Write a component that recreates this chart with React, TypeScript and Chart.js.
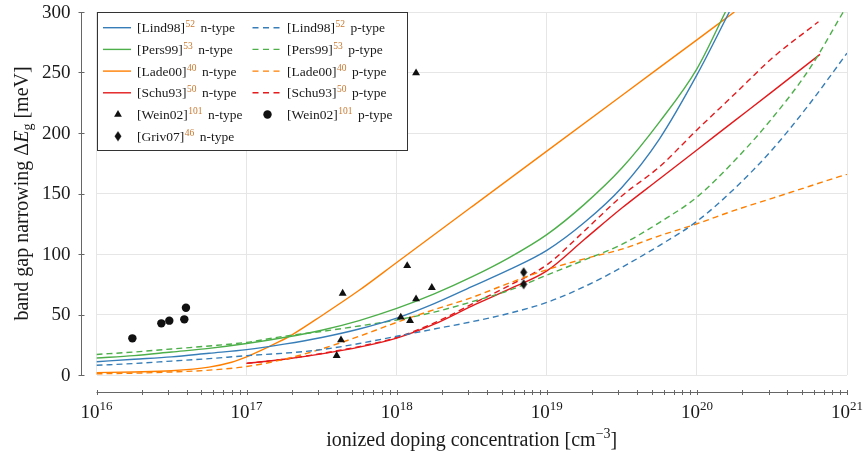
import { useEffect, useRef } from "react";
import { Chart, registerables } from "chart.js";

Chart.register(...registerables);

const SERIF = '"Liberation Serif", "Times New Roman", Times, serif';
const BLUE = "#377eb8";
const GREEN = "#4daf4a";
const ORANGE = "#ff7f00";
const RED = "#e41a1c";
const MARK = "#111111";
const CITE = "#c8782f";

// x values: log10 of ionized doping concentration [cm^-3]; y values: band gap narrowing [meV]
const lind98nLogN = [16, 16.25, 16.5, 16.75, 17, 17.25, 17.5, 17.75, 18, 18.25, 18.5, 18.75, 19, 19.25, 19.5, 19.75, 20, 20.216];
const lind98nVal = [11, 13, 15, 18, 21, 25.5, 31, 38, 47, 59, 73, 87, 103, 126, 155, 195, 248, 300];

const lind98pLogN = [16, 16.25, 16.5, 16.75, 17, 17.25, 17.5, 17.75, 18, 18.25, 18.5, 18.75, 19, 19.25, 19.5, 19.75, 20, 20.25, 20.5, 20.75, 21];
const lind98pVal = [8, 9.5, 11.5, 13.5, 16, 18, 21, 26, 32, 38, 44, 51, 60, 73, 89, 107, 127, 154, 186, 224, 266];

const pers99nLogN = [16, 16.25, 16.5, 16.75, 17, 17.25, 17.5, 17.75, 18, 18.25, 18.5, 18.75, 19, 19.25, 19.5, 19.75, 20, 20.19];
const pers99nVal = [14, 16, 19, 22, 26, 31, 37, 45, 55, 67, 81, 97, 116, 141, 171, 209, 253, 300];

const pers99pLogN = [16, 16.25, 16.5, 16.75, 17, 17.25, 17.5, 17.75, 18, 18.25, 18.5, 18.75, 19, 19.25, 19.5, 19.75, 20, 20.25, 20.5, 20.75, 20.975];
const pers99pVal = [17, 19, 21.5, 24, 27, 32, 36, 40.5, 45.5, 52, 60.5, 70, 82.5, 95, 108, 126, 147, 177, 212, 253, 300];

const lade00nLogN = [16, 16.25, 16.5, 16.75, 16.9, 17, 17.1, 17.2, 17.3, 17.5, 17.75, 18, 18.5, 19, 19.5, 20, 20.25];
const lade00nVal = [2, 2.5, 3.5, 6.5, 10.5, 15, 20.5, 26.5, 33, 49, 70, 93, 139, 185, 231, 277, 300];

const lade00pLogN = [16, 16.25, 16.5, 16.75, 17, 17.25, 17.5, 17.75, 18, 18.25, 18.5, 18.75, 19, 19.25, 19.5, 19.75, 20, 20.25, 20.5, 20.75, 21];
const lade00pVal = [1, 1.5, 2.5, 4, 7, 13, 21.5, 32, 43.5, 54, 64, 76, 87, 96, 104, 115, 125, 136, 146, 156, 166];

const schu93nLogN = [17, 17.25, 17.5, 17.75, 18, 18.25, 18.5, 18.75, 19, 19.25, 19.5, 19.75, 20, 20.25, 20.5, 20.82];
const schu93nVal = [9.6, 13, 17.5, 23, 30.5, 42, 57, 71, 86, 112, 138, 162, 186, 210, 234, 265];

const schu93pLogN = [17, 17.25, 17.5, 17.75, 18, 18.25, 18.5, 18.75, 19, 19.25, 19.5, 19.75, 20, 20.25, 20.5, 20.81];
const schu93pVal = [9.6, 13, 17.8, 23.5, 31, 43, 58.5, 74, 91, 119, 148, 172, 202.5, 232, 261.7, 292];

const wein02nLogN = [17.6, 17.629, 17.64, 18.027, 18.07, 18.089, 18.129, 18.129, 18.234];
const wein02nVal = [16, 28.9, 67.5, 47.7, 90.3, 44.9, 62.8, 249.6, 72.2];

const wein02pLogN = [16.239, 16.432, 16.485, 16.585, 16.596];
const wein02pVal = [30.3, 42.7, 44.9, 46, 55.6];

const griv07nLogN = [18.846, 18.846];
const griv07nVal = [84.9, 75];

// legend texts
const seriesNames = ["[Lind98]", "[Lind98]", "[Pers99]", "[Pers99]", "[Lade00]", "[Lade00]", "[Schu93]", "[Schu93]", "[Wein02]", "[Wein02]", "[Griv07]"];
const seriesCites = ["52", "52", "53", "53", "40", "40", "50", "50", "101", "101", "46"];
const seriesTypes = ["n-type", "p-type", "n-type", "p-type", "n-type", "p-type", "n-type", "p-type", "n-type", "p-type", "n-type"];

const xTickExponents = [16, 17, 18, 19, 20, 21];
const yTickValues = [0, 50, 100, 150, 200, 250, 300];

const pts = (logs: number[], vals: number[]) => logs.map((l, i) => ({ x: Math.pow(10, l), y: vals[i] }));

function makeDiamond(): HTMLCanvasElement {
  const c = document.createElement("canvas");
  c.width = 8;
  c.height = 11;
  const g = c.getContext("2d")!;
  g.fillStyle = MARK;
  g.beginPath();
  g.moveTo(4, 0.5);
  g.lineTo(7.5, 5.5);
  g.lineTo(4, 10.5);
  g.lineTo(0.5, 5.5);
  g.closePath();
  g.fill();
  return c;
}

function drawMarker(ctx: CanvasRenderingContext2D, kind: string, x: number, y: number, diamond: HTMLCanvasElement) {
  ctx.save();
  ctx.fillStyle = MARK;
  if (kind === "triangle") {
    const r = 4.5;
    ctx.beginPath();
    ctx.moveTo(x, y - r);
    ctx.lineTo(x + r * 0.866, y + r * 0.5);
    ctx.lineTo(x - r * 0.866, y + r * 0.5);
    ctx.closePath();
    ctx.fill();
  } else if (kind === "circle") {
    ctx.beginPath();
    ctx.arc(x, y, 4.2, 0, Math.PI * 2);
    ctx.fill();
  } else {
    ctx.drawImage(diamond, x - diamond.width / 2, y - diamond.height / 2);
  }
  ctx.restore();
}

export default function App() {
  const ref = useRef<HTMLCanvasElement>(null);

  useEffect(() => {
    const canvas = ref.current!;
    const diamond = makeDiamond();

    const line = (logs: number[], vals: number[], color: string, dashed: boolean, idx: number) => ({
      label: seriesNames[idx] + " " + seriesTypes[idx],
      data: pts(logs, vals),
      borderColor: color,
      backgroundColor: color,
      borderWidth: 1.4,
      borderDash: dashed ? [6, 4] : [],
      pointRadius: 0,
      cubicInterpolationMode: "monotone" as const,
      fill: false,
      order: 2,
      legendKind: dashed ? "dash" : "solid",
    });
    const scatter = (logs: number[], vals: number[], style: any, radius: number, idx: number, kind: string) => ({
      label: seriesNames[idx] + " " + seriesTypes[idx],
      data: pts(logs, vals),
      showLine: false,
      pointStyle: style,
      pointRadius: radius,
      pointBackgroundColor: MARK,
      pointBorderColor: MARK,
      pointBorderWidth: 0,
      borderColor: MARK,
      backgroundColor: MARK,
      order: 1,
      legendKind: kind,
    });

    const datasets: any[] = [
      line(lind98nLogN, lind98nVal, BLUE, false, 0),
      line(lind98pLogN, lind98pVal, BLUE, true, 1),
      line(pers99nLogN, pers99nVal, GREEN, false, 2),
      line(pers99pLogN, pers99pVal, GREEN, true, 3),
      line(lade00nLogN, lade00nVal, ORANGE, false, 4),
      line(lade00pLogN, lade00pVal, ORANGE, true, 5),
      line(schu93nLogN, schu93nVal, RED, false, 6),
      line(schu93pLogN, schu93pVal, RED, true, 7),
      scatter(wein02nLogN, wein02nVal, "triangle", 4.6, 8, "triangle"),
      scatter(wein02pLogN, wein02pVal, "circle", 4.2, 9, "circle"),
      scatter(griv07nLogN, griv07nVal, diamond, 5, 10, "diamond"),
    ];

    const axesPlugin = {
      id: "customAxes",
      afterDraw(chart: any) {
        const ctx: CanvasRenderingContext2D = chart.ctx;
        const area = chart.chartArea;
        const xs = chart.scales.x;
        const ys = chart.scales.y;
        ctx.save();

        // x axis (offset below plot)
        const axY = Math.round(area.bottom + 17) + 0.5;
        ctx.strokeStyle = "#666";
        ctx.lineWidth = 1;
        ctx.beginPath();
        ctx.moveTo(area.left, axY);
        ctx.lineTo(area.right, axY);
        for (let e = 16; e <= 21; e++) {
          for (let m = 1; m <= 9; m++) {
            if (e === 21 && m > 1) break;
            const px = Math.round(xs.getPixelForValue(m * Math.pow(10, e))) + 0.5;
            ctx.moveTo(px, axY - 2.5);
            ctx.lineTo(px, axY + 2.5);
          }
        }
        ctx.stroke();

        ctx.fillStyle = "#1a1a1a";
        ctx.textBaseline = "alphabetic";
        ctx.textAlign = "left";
        for (const e of xTickExponents) {
          const px = xs.getPixelForValue(Math.pow(10, e));
          ctx.font = `19px ${SERIF}`;
          const w1 = ctx.measureText("10").width;
          ctx.font = `13px ${SERIF}`;
          const w2 = ctx.measureText(String(e)).width;
          const x0 = px - (w1 + w2) / 2;
          ctx.font = `19px ${SERIF}`;
          ctx.fillText("10", x0, 418);
          ctx.font = `13px ${SERIF}`;
          ctx.fillText(String(e), x0 + w1, 410);
        }

        // y axis (offset left of plot)
        const axX = Math.round(area.left - 16) + 0.5;
        ctx.strokeStyle = "#666";
        ctx.beginPath();
        ctx.moveTo(axX, area.top);
        ctx.lineTo(axX, area.bottom);
        for (const v of yTickValues) {
          const py = Math.round(ys.getPixelForValue(v)) + 0.5;
          ctx.moveTo(axX - 3, py);
          ctx.lineTo(axX + 3, py);
        }
        ctx.stroke();
        ctx.font = `19px ${SERIF}`;
        ctx.textAlign = "right";
        ctx.textBaseline = "middle";
        for (const v of yTickValues) {
          ctx.fillText(String(v), axX - 11, ys.getPixelForValue(v) + 1);
        }

        // x title
        ctx.textAlign = "left";
        ctx.textBaseline = "alphabetic";
        const xParts: [string, string, number][] = [
          ["ionized doping concentration [cm", `20px ${SERIF}`, 0],
          ["\u22123", `14px ${SERIF}`, -8],
          ["]", `20px ${SERIF}`, 0],
        ];
        let total = 0;
        for (const p of xParts) { ctx.font = p[1]; total += ctx.measureText(p[0]).width; }
        let cx = (area.left + area.right) / 2 - total / 2;
        for (const p of xParts) {
          ctx.font = p[1];
          ctx.fillText(p[0], cx, 446 + p[2]);
          cx += ctx.measureText(p[0]).width;
        }

        // y title (rotated)
        const yParts: [string, string, number][] = [
          ["band gap narrowing \u0394", `20px ${SERIF}`, 0],
          ["E", `italic 20px ${SERIF}`, 0],
          ["g", `14px ${SERIF}`, 4],
          [" [meV]", `20px ${SERIF}`, 0],
        ];
        total = 0;
        for (const p of yParts) { ctx.font = p[1]; total += ctx.measureText(p[0]).width; }
        ctx.save();
        ctx.translate(28, (area.top + area.bottom) / 2);
        ctx.rotate(-Math.PI / 2);
        let ty = -total / 2;
        for (const p of yParts) {
          ctx.font = p[1];
          ctx.fillText(p[0], ty, p[2]);
          ty += ctx.measureText(p[0]).width;
        }
        ctx.restore();

        // legend
        const lx0 = 97.5, ly0 = 12.5, lx1 = 407.5, ly1 = 150.5;
        ctx.fillStyle = "#fff";
        ctx.fillRect(lx0, ly0, lx1 - lx0, ly1 - ly0);
        ctx.strokeStyle = "#333";
        ctx.lineWidth = 1;
        ctx.strokeRect(lx0, ly0, lx1 - lx0, ly1 - ly0);
        const colSample = [103, 252.5];
        const colText = [137, 287];
        const ds = chart.data.datasets;
        for (let i = 0; i < ds.length; i++) {
          const col = i % 2;
          const row = Math.floor(i / 2);
          const ry = 27.7 + row * 21.7;
          const d = ds[i];
          const kind = d.legendKind;
          if (kind === "solid" || kind === "dash") {
            ctx.save();
            ctx.strokeStyle = d.borderColor;
            ctx.lineWidth = 1.4;
            ctx.setLineDash(kind === "dash" ? [6, 4.5] : []);
            ctx.beginPath();
            ctx.moveTo(colSample[col], ry);
            ctx.lineTo(colSample[col] + 28, ry);
            ctx.stroke();
            ctx.restore();
          } else {
            drawMarker(ctx, kind, colSample[col] + 15, ry, diamond);
          }
          let tx = colText[col];
          ctx.textAlign = "left";
          ctx.textBaseline = "alphabetic";
          ctx.fillStyle = "#1a1a1a";
          ctx.font = `13.5px ${SERIF}`;
          ctx.fillText(seriesNames[i], tx, ry + 4.5);
          tx += ctx.measureText(seriesNames[i]).width + 0.5;
          ctx.fillStyle = CITE;
          ctx.font = `9.5px ${SERIF}`;
          ctx.fillText(seriesCites[i], tx, ry - 0.5);
          tx += ctx.measureText(seriesCites[i]).width + 5.5;
          ctx.fillStyle = "#1a1a1a";
          ctx.font = `13.5px ${SERIF}`;
          ctx.fillText(seriesTypes[i], tx, ry + 4.5);
        }
        ctx.restore();
      },
    };

    const chart = new Chart(canvas, {
      type: "line",
      data: { datasets },
      options: {
        responsive: false,
        animation: false,
        devicePixelRatio: 1,
        layout: { padding: { top: 12, right: 16, bottom: 0, left: 0 }, autoPadding: false },
        plugins: { legend: { display: false }, tooltip: { enabled: false } },
        scales: {
          x: {
            type: "logarithmic",
            min: 1e16,
            max: 1e21,
            ticks: { display: false },
            grid: { color: "#e6e6e6", lineWidth: 1, drawTicks: false },
            border: { display: false },
            afterBuildTicks: (s: any) => {
              s.ticks = xTickExponents.map((e) => ({ value: Math.pow(10, e) }));
            },
            afterFit: (s: any) => { s.height = 79; },
          },
          y: {
            type: "linear",
            min: 0,
            max: 300,
            ticks: { display: false, stepSize: 50 },
            grid: { color: "#e6e6e6", lineWidth: 1, drawTicks: false },
            border: { display: false },
            afterFit: (s: any) => { s.width = 96.5; },
          },
        },
      } as any,
      plugins: [axesPlugin],
    });
    return () => chart.destroy();
  }, []);

  return (
    <div style={{ position: "fixed", left: 0, top: 0, width: 863, height: 454, background: "#fff" }}>
      <canvas ref={ref} width={863} height={454} style={{ display: "block", width: 863, height: 454 }} />
    </div>
  );
}
